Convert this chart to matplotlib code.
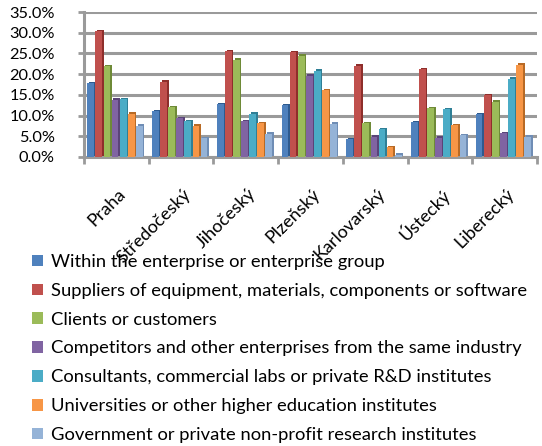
import matplotlib
matplotlib.use("Agg")
import matplotlib.pyplot as plt
import numpy as np
from matplotlib.patches import Patch

regions = ["Praha", "Středočeský", "Jihočeský", "Plzeňský", "Karlovarský", "Ústecký", "Liberecký"]
series_names = [
    "Within the enterprise or enterprise group",
    "Suppliers of equipment, materials, components or software",
    "Clients or customers",
    "Competitors and other enterprises from the same industry",
    "Consultants, commercial labs or private R&D institutes",
    "Universities or other higher education institutes",
    "Government or private non-profit research institutes",
]
within = [17.8, 11.0, 12.7, 12.5, 4.3, 8.4, 10.3]
suppliers = [30.3, 18.2, 25.5, 25.3, 22.0, 21.2, 14.9]
clients = [21.9, 12.0, 23.5, 24.5, 8.2, 11.8, 13.3]
competitors = [13.8, 9.4, 8.6, 19.6, 4.9, 4.7, 5.7]
consultants = [14.0, 8.6, 10.4, 20.8, 6.7, 11.5, 18.9]
universities = [10.4, 7.6, 8.1, 16.1, 2.3, 7.7, 22.3]
government = [7.6, 4.5, 5.6, 8.0, 0.5, 5.2, 4.9]
values = [within, suppliers, clients, competitors, consultants, universities, government]
yticks = [0, 5, 10, 15, 20, 25, 30, 35]

colors = ["#4F81BD", "#C0504D", "#9BBB59", "#8064A2", "#4BACC6", "#F79646", "#95B3D7"]
dark = ["#2E5A8E", "#8E2E2B", "#6E8A37", "#5A4478", "#2F7F96", "#B86A25", "#6F8DB5"]

W, H = 542, 446
plt.rcParams["font.family"] = ["Lato", "DejaVu Sans"]
fig = plt.figure(figsize=(W / 100, H / 100), dpi=100)
fig.patch.set_facecolor("white")

def px(x0, y0, x1, y1):
    return [x0 / W, 1 - y1 / H, (x1 - x0) / W, (y1 - y0) / H]

ax = fig.add_axes(px(84, 12, 537, 157))
ax.set_xlim(-0.5, len(regions) - 0.5)
ax.set_ylim(0, 35)

x = np.arange(len(regions))
step = 0.125
bw = 0.105
depth = 0.025
for i, (vals, c, d) in enumerate(zip(values, colors, dark)):
    pos = x - 3 * step + i * step - 0.02
    ax.bar(pos + depth, vals, width=bw, bottom=0.35, color=d, zorder=3, linewidth=0)
    ax.bar(pos, vals, width=bw, color=c, zorder=4, linewidth=0)

ax.set_yticks(yticks)
ax.set_yticklabels([f"{v:.1f}%" for v in yticks], fontsize=11.8)
ax.yaxis.grid(True, color="#9a9a9a", linewidth=2.2, zorder=0)
ax.set_axisbelow(True)
ax.tick_params(axis="y", length=4, width=2, color="#9a9a9a", pad=17)

ax.set_xticks(np.arange(len(regions) + 1) - 0.5, minor=False)
ax.set_xticklabels([])
ax.tick_params(axis="x", length=5, width=2, color="#9a9a9a")
for i, r in enumerate(regions):
    ax.annotate(r, xy=(i, 0), xycoords=("data", "axes fraction"),
                xytext=(5, -25), textcoords="offset points",
                rotation=45, rotation_mode="anchor", ha="right", va="center",
                fontsize=13)

for s in ["top", "right"]:
    ax.spines[s].set_visible(False)
ax.spines["left"].set_color("#9a9a9a")
ax.spines["left"].set_linewidth(2.2)
ax.spines["bottom"].set_color("#9a9a9a")
ax.spines["bottom"].set_linewidth(2.2)

handles = [Patch(facecolor=c, edgecolor="none") for c in colors]
fig.legend(handles, series_names, loc="upper left", bbox_to_anchor=(32 / W, 1 - 254 / H),
           frameon=False, fontsize=13.2, handlelength=0.6, handleheight=0.6,
           handletextpad=0.42, labelspacing=0.7, borderpad=0, borderaxespad=0)

fig.savefig("out.png", dpi=100, facecolor="white")
